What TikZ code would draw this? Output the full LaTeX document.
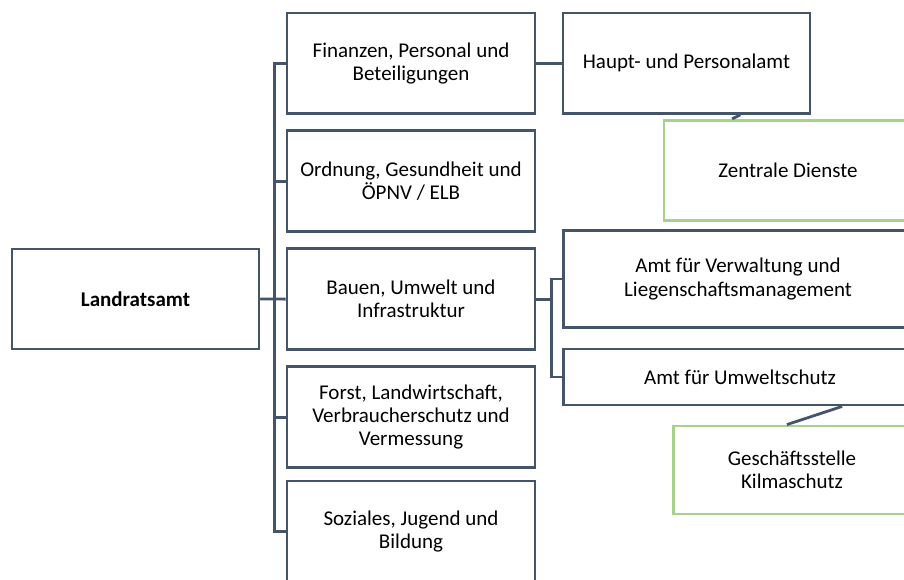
\documentclass[tikz,border=0pt]{standalone}
\usepackage{fontspec}
\setmainfont{Carlito}
\usetikzlibrary{calc}
\definecolor{slate}{HTML}{44546A}
\definecolor{leaf}{HTML}{A9D18E}
\tikzset{
  box/.style={draw=slate, line width=2.8pt, fill=white, rectangle, align=center,
    inner sep=0pt, font=\fontsize{21}{23.3}\selectfont, text=black},
  greenbox/.style={box, draw=leaf},
  link/.style={draw=slate, line width=2.8pt, line join=miter}
}
\begin{document}
\begin{tikzpicture}[x=1pt,y=-1pt]
\useasboundingbox (0,0) rectangle (904,579);
\clip (0,0) rectangle (904,579);
% nodes
\node[box, minimum width=247pt, minimum height=100pt, font=\fontsize{21}{23.3}\selectfont\bfseries] (lra) at (135.5,299) {Landratsamt};
\node[box, minimum width=248pt, minimum height=100.5pt] (fin) at (411,63.2) {Finanzen, Personal und\\Beteiligungen};
\node[box, minimum width=248pt, minimum height=100.5pt] (ord) at (411,181.1) {Ordnung, Gesundheit und\\ÖPNV / ELB};
\node[box, minimum width=248pt, minimum height=100.5pt] (bau) at (411,299.1) {Bauen, Umwelt und\\Infrastruktur};
\node[box, minimum width=248pt, minimum height=100.5pt] (frs) at (411,417.1) {Forst, Landwirtschaft,\\Verbraucherschutz und\\Vermessung};
\node[box, minimum width=248pt, minimum height=100.5pt] (soz) at (411,531.3) {Soziales, Jugend und\\Bildung};
\node[box, minimum width=247pt, minimum height=100.5pt] (hpa) at (686.5,63.2) {Haupt- und Personalamt};
\node[greenbox, minimum width=248pt, minimum height=100.5pt] (zen) at (788,170.5) {Zentrale Dienste};
\node[box, minimum width=349pt, minimum height=97.5pt] (avl) at (738,279) {Amt für Verwaltung und\\Liegenschaftsmanagement};
\node[box, minimum width=353pt, minimum height=56pt] (aus) at (740,377) {Amt für Umweltschutz};
\node[greenbox, minimum width=237.4pt, minimum height=88pt] (ges) at (792,470) {Geschäftsstelle\\Kilmaschutz};
% connectors
\path[link] (lra.east) -- ++(14,0) |- (fin.west);
\path[link] (lra.east) -- ++(14,0) |- (ord.west);
\path[link] (lra.east) -- (bau.west);
\path[link] (lra.east) -- ++(14,0) |- (frs.west);
\path[link] (lra.east) -- ++(14,0) |- (soz.west);
\path[link] (fin.east) -- (hpa.west);
\path[link] (bau.east) -- ++(15,0) |- (avl.west);
\path[link] (bau.east) -- ++(15,0) |- (aus.west);
\path[link] ($(hpa.south west)+(178.7,0)$) -- ($(zen.north west)+(69.5,0)$);
\path[link] ($(aus.south west)+(280,0)$) -- ($(ges.north west)+(115,0)$);
\end{tikzpicture}
\end{document}
